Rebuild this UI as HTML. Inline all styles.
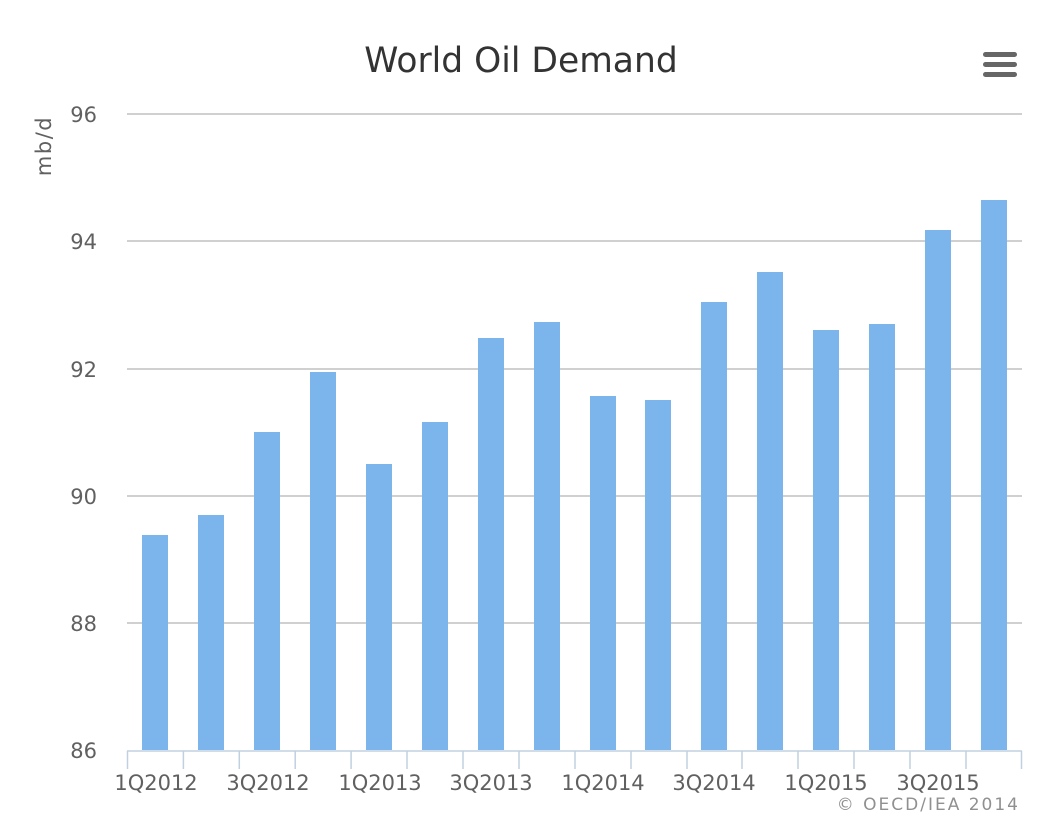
<!DOCTYPE html>
<html><head><style>body{margin:0;background:#fff}</style></head><body>
<svg width="1052" height="830" xmlns="http://www.w3.org/2000/svg" font-family="'DejaVu Sans',sans-serif">
<rect width="1052" height="830" fill="#fff"/>
<text x="521" y="72" text-anchor="middle" font-size="34.5" fill="#333">World Oil Demand</text>
<g fill="#666"><rect x="983" y="52" width="34" height="5" rx="2.5"/><rect x="983" y="62" width="34" height="5" rx="2.5"/><rect x="983" y="72" width="34" height="5" rx="2.5"/></g>
<g stroke="#c0c0c0" stroke-width="1.5">
<line x1="127" x2="1022" y1="114" y2="114"/><line x1="127" x2="1022" y1="241" y2="241"/><line x1="127" x2="1022" y1="369" y2="369"/><line x1="127" x2="1022" y1="496" y2="496"/><line x1="127" x2="1022" y1="623" y2="623"/>
</g>
<g font-size="21" fill="#606060" text-anchor="end">
<text x="97" y="122">96</text><text x="97" y="249">94</text><text x="97" y="377">92</text><text x="97" y="504">90</text><text x="97" y="631">88</text><text x="97" y="758">86</text>
</g>
<text transform="translate(51,146) rotate(-90)" text-anchor="middle" font-size="21" letter-spacing="1.5" fill="#606060">mb/d</text>
<g fill="#7cb5ec">
<rect x="142" y="535" width="26" height="215"/>
<rect x="198" y="515" width="26" height="235"/>
<rect x="254" y="432" width="26" height="318"/>
<rect x="310" y="372" width="26" height="378"/>
<rect x="366" y="464" width="26" height="286"/>
<rect x="422" y="422" width="26" height="328"/>
<rect x="478" y="338" width="26" height="412"/>
<rect x="534" y="322" width="26" height="428"/>
<rect x="590" y="396" width="26" height="354"/>
<rect x="645" y="400" width="26" height="350"/>
<rect x="701" y="302" width="26" height="448"/>
<rect x="757" y="272" width="26" height="478"/>
<rect x="813" y="330" width="26" height="420"/>
<rect x="869" y="324" width="26" height="426"/>
<rect x="925" y="230" width="26" height="520"/>
<rect x="981" y="200" width="26" height="550"/>
</g>
<g stroke="#c0d0e0" stroke-width="1.5">
<line x1="127" x2="1022" y1="751" y2="751"/>
<line x1="127.5" x2="127.5" y1="751" y2="769"/><line x1="183.4" x2="183.4" y1="751" y2="769"/><line x1="239.3" x2="239.3" y1="751" y2="769"/><line x1="295.2" x2="295.2" y1="751" y2="769"/><line x1="351.1" x2="351.1" y1="751" y2="769"/><line x1="407" x2="407" y1="751" y2="769"/><line x1="463" x2="463" y1="751" y2="769"/><line x1="519" x2="519" y1="751" y2="769"/><line x1="575" x2="575" y1="751" y2="769"/><line x1="631" x2="631" y1="751" y2="769"/><line x1="687" x2="687" y1="751" y2="769"/><line x1="742" x2="742" y1="751" y2="769"/><line x1="798" x2="798" y1="751" y2="769"/><line x1="854" x2="854" y1="751" y2="769"/><line x1="910" x2="910" y1="751" y2="769"/><line x1="966" x2="966" y1="751" y2="769"/><line x1="1021.5" x2="1021.5" y1="751" y2="769"/>
</g>
<g font-size="21" fill="#606060" text-anchor="middle">
<text x="156" y="790">1Q2012</text><text x="268" y="790">3Q2012</text><text x="380" y="790">1Q2013</text><text x="491" y="790">3Q2013</text><text x="603" y="790">1Q2014</text><text x="714" y="790">3Q2014</text><text x="826" y="790">1Q2015</text><text x="938" y="790">3Q2015</text>
</g>
<text x="1020" y="810" text-anchor="end" font-size="17" letter-spacing="2" fill="#909090">© OECD/IEA 2014</text>
</svg>
</body></html>
